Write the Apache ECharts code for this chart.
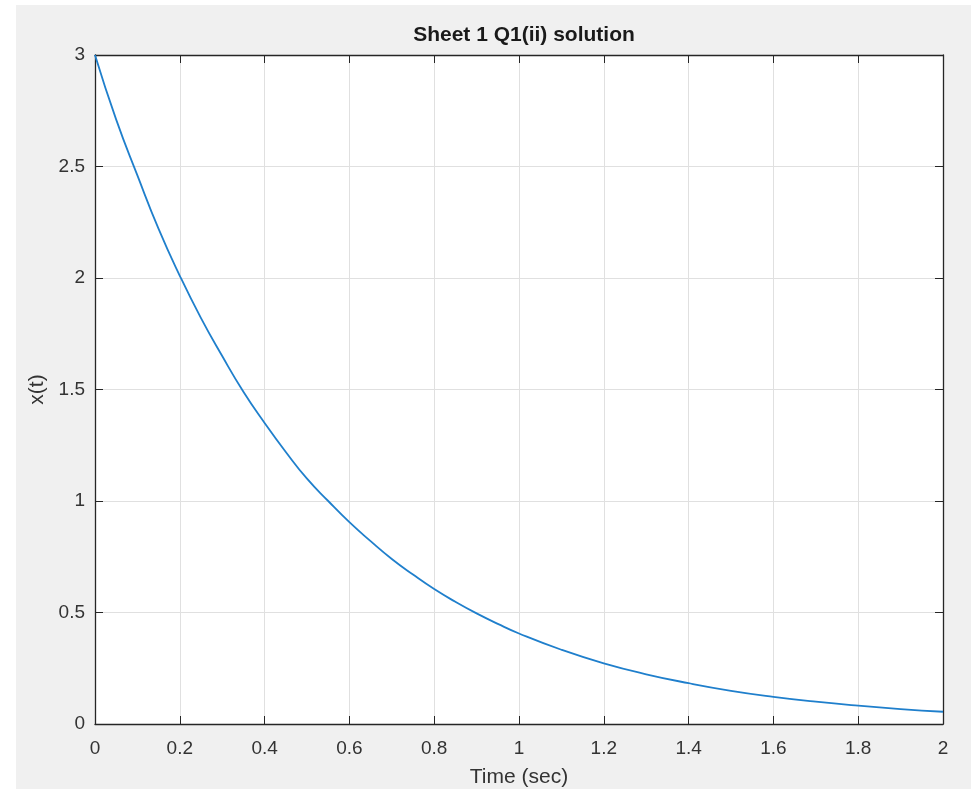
<!DOCTYPE html>
<html>
<head>
<meta charset="utf-8">
<script src="https://cdn.jsdelivr.net/npm/echarts@6/dist/echarts.min.js"></script>
<style>
html,body{margin:0;padding:0;background:#ffffff;}
#c{position:absolute;left:16px;top:5px;width:955px;height:784px;}
</style>
</head>
<body>
<div id="c"></div>
<script>
const titleText = 'Sheet 1 Q1(ii) solution';
const xName = 'Time (sec)';
const yName = 'x(t)';
const timeValues = [0, 0.05, 0.1, 0.15, 0.2, 0.25, 0.3, 0.35, 0.4, 0.45, 0.5, 0.55, 0.6, 0.65, 0.7, 0.75, 0.8, 0.85, 0.9, 0.95, 1.0, 1.1, 1.2, 1.3, 1.4, 1.5, 1.6, 1.7, 1.8, 1.9, 2.0];
const xValues = [3.0, 2.71, 2.46, 2.22, 2.01, 1.82, 1.65, 1.49, 1.35, 1.22, 1.10, 1.00, 0.905, 0.82, 0.74, 0.67, 0.605, 0.548, 0.496, 0.449, 0.406, 0.333, 0.272, 0.223, 0.183, 0.149, 0.122, 0.100, 0.082, 0.067, 0.055];
const xTicks = [0, 0.2, 0.4, 0.6, 0.8, 1, 1.2, 1.4, 1.6, 1.8, 2];
const yTicks = [0, 0.5, 1, 1.5, 2, 2.5, 3];

const data = timeValues.map((t, i) => [t, xValues[i]]);
const font = 'Helvetica, Arial, "Liberation Sans", sans-serif';
const axisColor = '#262626';
const labelColor = '#333333';
const gridColor = '#e0e0e0';

const chart = echarts.init(document.getElementById('c'));
chart.setOption({
  backgroundColor: '#f0f0f0',
  animation: false,
  title: {
    text: titleText,
    left: 503, top: 15, textAlign: 'center',
    textStyle: {fontFamily: font, fontSize: 21, fontWeight: 'bold', color: '#1a1a1a'}
  },
  grid: {left: 79, top: 50, right: 28, bottom: 65, show: true, backgroundColor: '#ffffff', borderWidth: 0,
    containLabel: false, outerBoundsMode: 'none'},
  xAxis: [{
    type: 'value', min: 0, max: 2, interval: 0.2,
    name: xName, nameLocation: 'middle', nameGap: 43,
    nameTextStyle: {fontFamily: font, fontSize: 21, color: labelColor},
    axisLine: {show: true, onZero: false, lineStyle: {color: axisColor, width: 1.3}},
    axisTick: {show: true, inside: true, length: 8, lineStyle: {color: axisColor}},
    axisLabel: {fontFamily: font, fontSize: 19, color: labelColor, margin: 15,
      formatter: v => String(Math.round(v * 10) / 10)},
    splitLine: {show: true, lineStyle: {color: gridColor, width: 1}}
  }, {
    type: 'value', min: 0, max: 2, interval: 0.2, position: 'top',
    axisLine: {show: true, onZero: false, lineStyle: {color: axisColor, width: 1.3}},
    axisTick: {show: true, inside: true, length: 8, lineStyle: {color: axisColor}},
    axisLabel: {show: false}, splitLine: {show: false}
  }],
  yAxis: [{
    type: 'value', min: 0, max: 3, interval: 0.5,
    name: yName, nameLocation: 'middle', nameGap: 43, nameRotate: 90,
    nameTextStyle: {fontFamily: font, fontSize: 21, color: labelColor},
    axisLine: {show: true, onZero: false, lineStyle: {color: axisColor, width: 1.3}},
    axisTick: {show: true, inside: true, length: 8, lineStyle: {color: axisColor}},
    axisLabel: {fontFamily: font, fontSize: 19, color: labelColor, margin: 10, padding: [9, 0, 0, 0]},
    splitLine: {show: true, lineStyle: {color: gridColor, width: 1}}
  }, {
    type: 'value', min: 0, max: 3, interval: 0.5, position: 'right',
    axisLine: {show: true, onZero: false, lineStyle: {color: axisColor, width: 1.3}},
    axisTick: {show: true, inside: true, length: 8, lineStyle: {color: axisColor}},
    axisLabel: {show: false}, splitLine: {show: false}
  }],
  series: [{
    type: 'line', data: data, smooth: true, showSymbol: false,
    xAxisIndex: 0, yAxisIndex: 0,
    lineStyle: {color: '#1f7fcc', width: 1.8}
  }]
});
</script>
</body>
</html>
